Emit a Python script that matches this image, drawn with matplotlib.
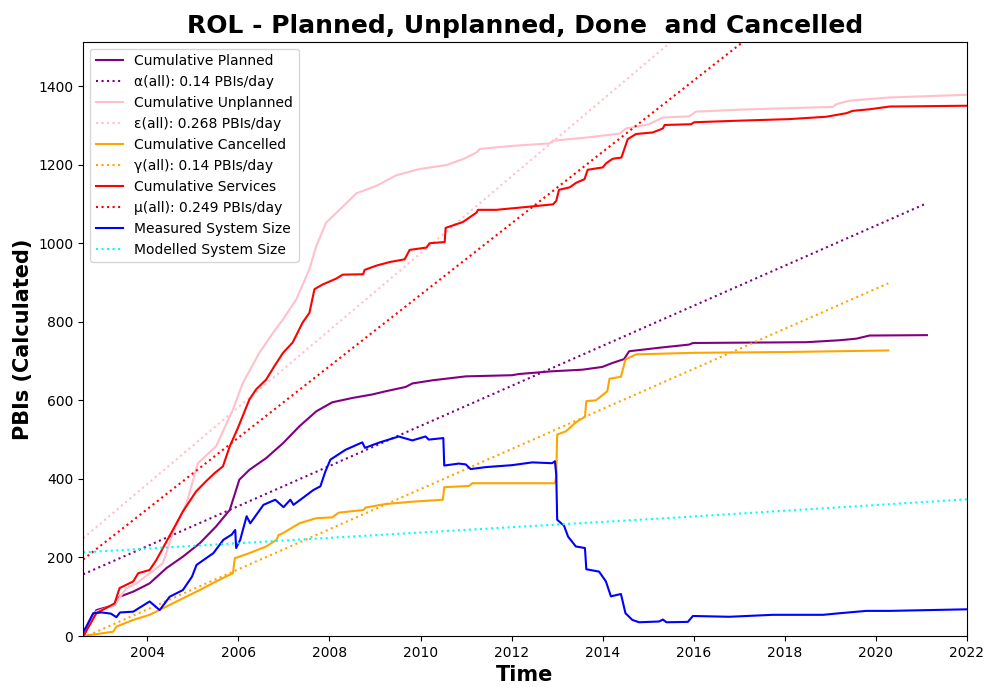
"""
ROL - cumulative planned / unplanned / cancelled / services PBIs over time,
with linear rate fits and measured vs modelled system size.
"""

import matplotlib
matplotlib.use("Agg")
import matplotlib.pyplot as plt

# Cumulative Planned
planned_years = [2002.59, 2002.62, 2002.88, 2003.28, 2003.39, 2003.69, 2004.05, 2004.42, 2004.78,
                 2005.15, 2005.51, 2005.81, 2006.02, 2006.24, 2006.61, 2006.98, 2007.34, 2007.71,
                 2008.06, 2008.5, 2008.94, 2009.23, 2009.67, 2009.82, 2010.26, 2010.7, 2010.99,
                 2012.01, 2012.16, 2012.89, 2013.55, 2013.99, 2014.21, 2014.47, 2014.58, 2015.25,
                 2015.9, 2015.98, 2018.47, 2019.2, 2019.57, 2019.86, 2021.12]
planned_vals = [0, 5, 66, 79, 100, 113, 134, 173, 202,
                236, 279, 321, 398, 423, 453, 491, 534, 572,
                595, 606, 615, 623, 634, 643, 651, 657, 661,
                664, 667, 674, 678, 685, 695, 705, 725, 734,
                742, 746, 748, 753, 757, 765, 766]

# Cumulative Unplanned
unplanned_years = [2002.59, 2002.62, 2002.88, 2003.28, 2003.54, 2003.76, 2004.34, 2004.56, 2004.86,
                   2005.11, 2005.51, 2005.88, 2006.10, 2006.46, 2006.76, 2006.98, 2007.27, 2007.56,
                   2007.71, 2007.93, 2008.23, 2008.59, 2009.03, 2009.47, 2009.98, 2010.57, 2010.93,
                   2011.23, 2011.30, 2012.03, 2012.83, 2012.91, 2013.64, 2014.37, 2014.51, 2015.02,
                   2015.32, 2015.9, 2016.05, 2017.0, 2018.1, 2019.05, 2019.13, 2019.42, 2020.3, 2022.0]
unplanned_vals = [0, 5, 62, 79, 122, 134, 185, 262, 338,
                  440, 483, 577, 645, 721, 772, 806, 857, 934,
                  993, 1053, 1086, 1127, 1146, 1173, 1189, 1199, 1214,
                  1231, 1240, 1248, 1254, 1261, 1269, 1279, 1292, 1303,
                  1320, 1323, 1335, 1340, 1344, 1347, 1354, 1363, 1371, 1378]

# Cumulative Cancelled
cancelled_years = [2002.59, 2003.25, 2003.32, 2003.69, 2004.05, 2004.42, 2004.78, 2005.15, 2005.51,
                   2005.88, 2005.92, 2006.24, 2006.61, 2006.84, 2006.88, 2006.98, 2007.34, 2007.71,
                   2008.06, 2008.2, 2008.75, 2008.79, 2009.23, 2009.82, 2010.49, 2010.52, 2011.06,
                   2011.14, 2012.95, 2012.98, 2013.0, 2013.19, 2013.41, 2013.61, 2013.64, 2013.85,
                   2014.1, 2014.15, 2014.4, 2014.5, 2014.73, 2016.0, 2018.0, 2020.27]
cancelled_vals = [0, 11, 24, 41, 54, 75, 96, 117, 139,
                  160, 198, 211, 228, 245, 257, 262, 287, 300,
                  302, 314, 321, 327, 336, 342, 347, 379, 382,
                  389, 389, 406, 513, 521, 544, 558, 598, 600,
                  623, 655, 660, 704, 717, 721, 723, 727]

# Cumulative Services
services_years = [2002.59, 2002.62, 2002.88, 2003.28, 2003.39, 2003.69, 2003.80, 2004.05, 2004.20,
                  2004.56, 2004.78, 2005.07, 2005.29, 2005.48, 2005.66, 2005.81, 2005.99, 2006.24,
                  2006.39, 2006.61, 2006.79, 2006.98, 2007.19, 2007.41, 2007.56, 2007.67, 2007.85,
                  2008.15, 2008.29, 2008.74, 2008.77, 2009.03, 2009.32, 2009.65, 2009.76, 2010.13,
                  2010.2, 2010.53, 2010.55, 2010.93, 2011.23, 2011.26, 2011.66, 2012.39, 2012.91,
                  2012.98, 2013.04, 2013.27, 2013.42, 2013.6, 2013.67, 2014.0, 2014.08, 2014.22,
                  2014.41, 2014.55, 2014.73, 2015.1, 2015.32, 2015.36, 2015.94, 2016.01, 2017.0,
                  2018.1, 2018.91, 2019.35, 2019.49, 2019.86, 2020.3, 2022.0]
services_vals = [0, 5, 58, 83, 122, 139, 160, 168, 194,
                 270, 317, 368, 394, 415, 432, 483, 530, 602,
                 628, 653, 687, 721, 747, 798, 823, 883, 895,
                 910, 920, 921, 932, 943, 952, 959, 983, 989,
                 1000, 1003, 1039, 1054, 1078, 1085, 1085, 1093, 1099,
                 1108, 1136, 1142, 1154, 1163, 1187, 1193, 1204, 1215,
                 1218, 1265, 1278, 1282, 1292, 1301, 1303, 1308, 1312,
                 1316, 1322, 1331, 1337, 1341, 1348, 1350]

# Measured System Size
measured_years = [2002.59, 2002.66, 2002.81, 2003.0, 2003.2, 2003.32, 2003.4, 2003.69, 2004.05,
                  2004.27, 2004.49, 2004.78, 2004.98, 2005.08, 2005.45, 2005.67, 2005.85, 2005.93,
                  2005.95, 2006.04, 2006.18, 2006.26, 2006.55, 2006.81, 2006.99, 2007.14, 2007.21,
                  2007.65, 2007.8, 2007.91, 2008.02, 2008.35, 2008.72, 2008.78, 2009.08, 2009.52,
                  2009.82, 2010.11, 2010.18, 2010.5, 2010.52, 2010.84, 2010.99, 2011.1, 2011.43,
                  2012.01, 2012.45, 2012.89, 2012.95, 2012.98, 2013.0, 2013.15, 2013.24, 2013.41,
                  2013.61, 2013.64, 2013.92, 2014.07, 2014.18, 2014.4, 2014.5, 2014.65, 2014.8,
                  2015.24, 2015.32, 2015.4, 2015.87, 2015.98, 2016.78, 2017.74, 2018.84, 2019.2,
                  2019.79, 2020.3, 2022.0]
measured_vals = [10, 24, 58, 60, 57, 48, 60, 62, 88,
                 66, 100, 117, 151, 181, 211, 245, 258, 270,
                 224, 245, 305, 287, 334, 347, 328, 347, 334,
                 372, 381, 419, 449, 474, 493, 479, 492, 508,
                 498, 508, 500, 504, 434, 439, 437, 425, 430,
                 435, 442, 440, 445, 411, 296, 281, 253, 228,
                 224, 170, 164, 139, 101, 107, 58, 41, 35,
                 37, 42, 35, 36, 51, 49, 54, 54, 58,
                 64, 64, 68]

# Modelled System Size
modelled_years = [2002.59, 2008.3, 2015.24, 2022.0]
modelled_vals = [213, 252, 299, 348]

# linear rate fits (end points)
alpha_years = [2002.59, 2021.12]
alpha_vals = [157, 1102]
eps_years = [2002.59, 2022.0]
eps_vals = [249, 2149]
gamma_years = [2002.59, 2020.27]
gamma_vals = [-4, 898]
mu_years = [2002.59, 2022.0]
mu_vals = [195, 1960]

xticks = [2004, 2006, 2008, 2010, 2012, 2014, 2016, 2018, 2020, 2022]


def plot_rol():
    fig = plt.figure(figsize=(10, 7), dpi=100)
    ax = fig.add_axes([0.083, 0.0914, 0.884, 0.849])

    lw = 1.5
    ax.plot(planned_years, planned_vals, color='purple', lw=lw, label='Cumulative Planned')
    ax.plot(alpha_years, alpha_vals, color='purple', ls=':', lw=lw, label='α(all): 0.14 PBIs/day')
    ax.plot(unplanned_years, unplanned_vals, color='pink', lw=lw, label='Cumulative Unplanned')
    ax.plot(eps_years, eps_vals, color='pink', ls=':', lw=lw, label='ε(all): 0.268 PBIs/day')
    ax.plot(cancelled_years, cancelled_vals, color='orange', lw=lw, label='Cumulative Cancelled')
    ax.plot(gamma_years, gamma_vals, color='orange', ls=':', lw=lw, label='γ(all): 0.14 PBIs/day')
    ax.plot(services_years, services_vals, color='red', lw=lw, label='Cumulative Services')
    ax.plot(mu_years, mu_vals, color='red', ls=':', lw=lw, label='μ(all): 0.249 PBIs/day')
    ax.plot(measured_years, measured_vals, color='blue', lw=lw, label='Measured System Size')
    ax.plot(modelled_years, modelled_vals, color='cyan', ls=':', lw=lw, label='Modelled System Size')

    ax.set_xlim(2002.587, 2022.0)
    ax.set_ylim(0, 1513)
    ax.set_xticks(xticks)
    ax.set_xticklabels([str(t) for t in xticks])

    ax.set_title('ROL - Planned, Unplanned, Done  and Cancelled', fontsize=18, fontweight='bold')
    ax.set_xlabel('Time', fontsize=15, fontweight='bold')
    ax.set_ylabel('PBIs (Calculated)', fontsize=15, fontweight='bold')
    ax.legend(loc='upper left')

    fig.savefig('out.png', dpi=100)


if __name__ == "__main__":
    plot_rol()
